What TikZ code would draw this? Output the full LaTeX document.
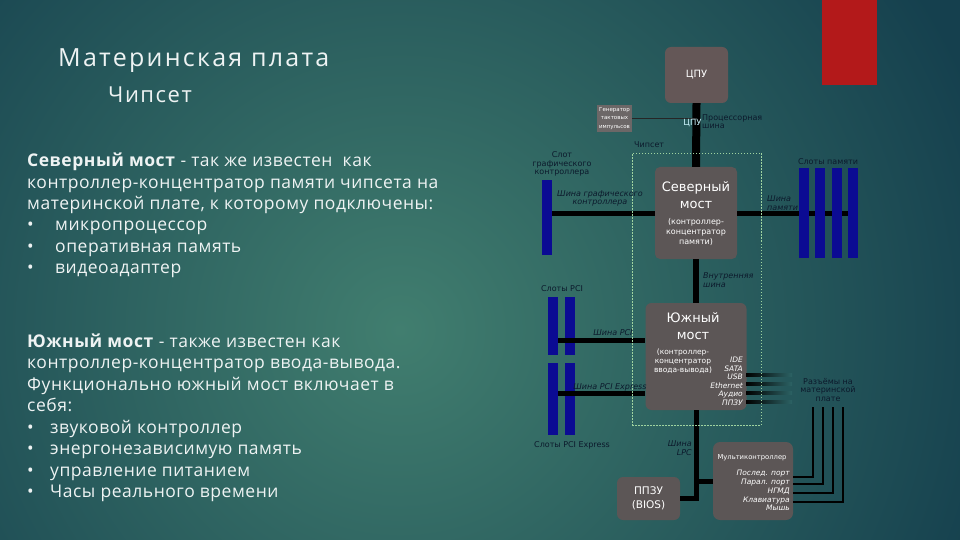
\documentclass[tikz,border=0pt]{standalone}
\usepackage{fontspec}
\setmainfont{Open Sans}
\newfontfamily\dfont{DejaVu Sans}
\newfontfamily\titlefont[LetterSpace=9]{Open Sans}
\newfontfamily\subfont[LetterSpace=7]{Open Sans}
\newfontfamily\bodyfont[LetterSpace=3]{Open Sans}
\definecolor{bgA}{HTML}{15404E}
\definecolor{bgB}{HTML}{417E6F}
\definecolor{bgM}{HTML}{2C6264}
\definecolor{boxg}{HTML}{5C5656}
\definecolor{cpug}{HTML}{645757}
\definecolor{slotb}{HTML}{0B0B93}
\definecolor{lbl}{HTML}{0C1A2C}
\definecolor{dashc}{HTML}{9FD3A0}
\definecolor{redbar}{HTML}{B3191A}
\definecolor{txt}{HTML}{EEF3F3}
\definecolor{cpulc}{HTML}{C8F0F8}
\begin{document}
\begin{tikzpicture}[x=1pt,y=-1pt,
  gbox/.style={fill=boxg, rounded corners=6pt, draw=none, inner sep=0pt},
  slotbar/.style={fill=slotb, draw=none, minimum width=10pt, inner sep=0pt},
  bus/.style={line width=5pt, black},
  thinbus/.style={line width=2.5pt, black},
  lab/.style={font=\dfont\fontsize{8}{8.5}\selectfont, text=lbl, inner sep=0pt, align=center},
  ilab/.style={font=\dfont\itshape\fontsize{8}{8.5}\selectfont, text=lbl, inner sep=0pt, align=center},
  wt/.style={text=white, inner sep=0pt, align=center},
  body/.style={anchor=base west, inner sep=0pt, text=txt, font=\bodyfont\fontsize{17.5}{21}\selectfont},
]
\useasboundingbox (0,0) rectangle (960,540);
\begin{scope}
\clip (0,0) rectangle (960,540);
\fill[bgA] (0,0) rectangle (960,540);
\shade[inner color=bgB, outer color=bgA] (400,330) circle (620);
\fill[redbar] (822,0) rectangle (877,85);
\end{scope}

% ---------- left text ----------
\node[anchor=base west, inner sep=0pt, text=txt, font=\titlefont\fontsize{25}{30}\selectfont] (title) at (58,67) {Материнская плата};
\node[anchor=base west, inner sep=0pt, text=txt, font=\subfont\fontsize{22}{26}\selectfont] (sub) at (108,103) {Чипсет};

\node[body] (n1) at (27,167) {\textbf{Северный мост} - так же известен\ \ как};
\node[body] (n2) at (27,188) {контроллер-концентратор памяти чипсета на};
\node[body] (n3) at (27,209.5) {материнской плате, к которому подключены:};
\node[body] (n4b) at (27,230.5) {•};
\node[body] (n4) at (55,230.5) {микропроцессор};
\node[body] (n5b) at (27,252) {•};
\node[body] (n5) at (55,252) {оперативная память};
\node[body] (n6b) at (27,273) {•};
\node[body] (n6) at (55,273) {видеоадаптер};

\node[body] (s1) at (27,347) {\textbf{Южный мост} - также известен как};
\node[body] (s2) at (27,368.5) {контроллер-концентратор ввода-вывода.};
\node[body] (s3) at (27,390) {Функционально южный мост включает в};
\node[body] (s4) at (27,411.5) {себя:};
\node[body] (s5b) at (27,433) {•};
\node[body] (s5) at (50,433) {звуковой контроллер};
\node[body] (s6b) at (27,454.5) {•};
\node[body] (s6) at (50,454.5) {энергонезависимую память};
\node[body] (s7b) at (27,476) {•};
\node[body] (s7) at (50,476) {управление питанием};
\node[body] (s8b) at (27,497.5) {•};
\node[body] (s8) at (50,497.5) {Часы реального времени};

% ---------- diagram boxes ----------
\node[gbox, fill=cpug, minimum width=63pt, minimum height=56pt] (cpu) at (696.5,75) {};
\node[wt, font=\dfont\fontsize{10}{11}\selectfont] (cput) at (cpu.center) {ЦПУ};

\node[fill=boxg!90!white, inner sep=0pt, minimum width=35pt, minimum height=27pt] (clk) at (614.5,118.5) {};
\node[wt, font=\dfont\fontsize{5.5}{8.2}\selectfont] (clkt) at (clk.center) {Генератор\\тактовых\\импульсов};

\node[gbox, rounded corners=5pt, minimum width=82pt, minimum height=92pt] (nb) at (696,213) {};
\node[gbox, minimum width=101pt, minimum height=107pt] (sb) at (696,356.5) {};
\node[gbox, minimum width=63pt, minimum height=43pt] (rom) at (648.5,498.5) {};
\node[gbox, rounded corners=7pt, minimum width=80pt, minimum height=78pt] (mc) at (753,481) {};

% slots
\node[slotbar, minimum height=75pt] (gslot) at (547,217.5) {};
\node[slotbar, minimum height=58pt] (pci1) at (553,326) {};
\node[slotbar, minimum height=58pt] (pci2) at (570,326) {};
\node[slotbar, minimum height=72pt] (pcie1) at (553,399) {};
\node[slotbar, minimum height=72pt] (pcie2) at (570,399) {};

% buses
\draw[bus] (gslot.east |- nb.west) -- (nb.west);
\coordinate (memend) at (853,213);
\draw[bus] (nb.east) -- (memend);
\node[slotbar, minimum height=90pt] (m1) at (804,213) {};
\node[slotbar, minimum height=90pt] (m2) at (820,213) {};
\node[slotbar, minimum height=90pt] (m3) at (837,213) {};
\node[slotbar, minimum height=90pt] (m4) at (853,213) {};

\draw[line width=8pt, black] (cpu.south) -- (nb.north);
\draw[line width=0.7pt, black!85] (clk.east) -- (cpu.south |- clk.east);
\draw[line width=6pt, black] (nb.south) -- (sb.north);

\coordinate (pciy) at (0,340);
\coordinate (pcey) at (0,393);
\draw[bus] (pci1.east |- pciy) -- (sb.west |- pciy);
\draw[bus] (pcie1.east |- pcey) -- (sb.west |- pcey);

\draw[bus] (sb.south) -- (sb.south |- rom.east) -- (rom.east);
\draw[bus] (sb.south |- mc.west) -- (mc.west);

% south bridge connector lines (fading)
\foreach \yy in {375,384,393,402}{
  \shade[left color=black, right color=bgM] (746,\yy-1.5) rectangle (792,\yy+1.5);
}
% multicontroller connector lines
\coordinate (c1) at (813,407);
\coordinate (c2) at (823,407);
\coordinate (c3) at (833,407);
\coordinate (c4) at (843,407);
\draw[thinbus] (mc.east |- 0,477) -- (c1 |- 0,477) -- (c1);
\draw[thinbus] (mc.east |- 0,484) -- (c2 |- 0,484) -- (c2);
\draw[thinbus] (mc.east |- 0,493) -- (c3 |- 0,493) -- (c3);
\draw[thinbus] (mc.east |- 0,502) -- (c4 |- 0,502) -- (c4);

% chipset dashed frame
\node[draw=dashc, line width=0.6pt, dash pattern=on 1.5pt off 1.5pt, inner sep=0pt, minimum width=129pt, minimum height=272pt] (chip) at (696.5,289) {};

% ---------- texts in boxes ----------
\node[wt, font=\dfont\fontsize{13}{15}\selectfont] (nbt1) at (696,188) {Северный};
\node[wt, font=\dfont\fontsize{13}{15}\selectfont] (nbt2) at (696,205) {мост};
\node[wt, font=\dfont\fontsize{8}{10}\selectfont] (nbt3) at (696,232) {(контроллер-\\концентратор\\памяти)};

\node[wt, font=\dfont\fontsize{13}{15}\selectfont] (sbt1) at (693,318) {Южный};
\node[wt, font=\dfont\fontsize{13}{15}\selectfont] (sbt2) at (693,336) {мост};
\node[wt, font=\dfont\fontsize{7.5}{9}\selectfont] (sbt3) at (683,361) {(контроллер-\\концентратор\\ввода-вывода)};
\node[wt, anchor=east, align=right, font=\dfont\itshape\fontsize{7.5}{8.5}\selectfont] (sbl) at (743,381.5) {IDE\\SATA\\USB\\Ethernet\\Аудио\\ППЗУ};

\node[wt, font=\dfont\fontsize{10.5}{14}\selectfont] (romt) at (rom.center) {ППЗУ\\(BIOS)};
\node[wt, font=\dfont\fontsize{6.8}{8}\selectfont] (mct1) at (752,458) {Мультиконтроллер};
\node[wt, anchor=east, align=right, font=\dfont\itshape\fontsize{7.5}{8.8}\selectfont] (mcl) at (790,490.5) {Послед. порт\\Парал. порт\\НГМД\\Клавиатура\\Мышь};

% ---------- labels ----------
\node[text=cpulc, inner sep=0pt, font=\dfont\fontsize{8.5}{9}\selectfont] (cpul) at (692.5,123.5) {ЦПУ};
\node[lab, anchor=west, align=left] (pbus) at (702,121.5) {Процессорная\\шина};
\node[lab, anchor=west] (chipl) at (634,145) {Чипсет};
\node[lab] (gsl) at (562,164) {Слот\\графического\\контроллера};
\node[ilab] (gbl) at (600,198.5) {Шина графического\\контроллера};
\node[lab] (msl) at (828,162) {Слоты памяти};
\node[ilab, anchor=west, align=left] (mbl) at (767,203) {Шина\\памяти};
\node[ilab, anchor=west, align=left] (ibl) at (703,280) {Внутренняя\\шина};
\node[lab] (pcil) at (562,289) {Слоты PCI};
\node[lab] (pcel) at (572,445) {Слоты PCI Express};
\node[ilab] (pcibl) at (613,333) {Шина PCI};
\node[ilab] (pcebl) at (610,387) {Шина PCI Express};
\node[lab] (conl) at (828,390) {Разъёмы на\\материнской\\плате};
\node[ilab, anchor=east, align=right] (lpcl) at (692,448) {Шина\\LPC};
\end{tikzpicture}
\end{document}
